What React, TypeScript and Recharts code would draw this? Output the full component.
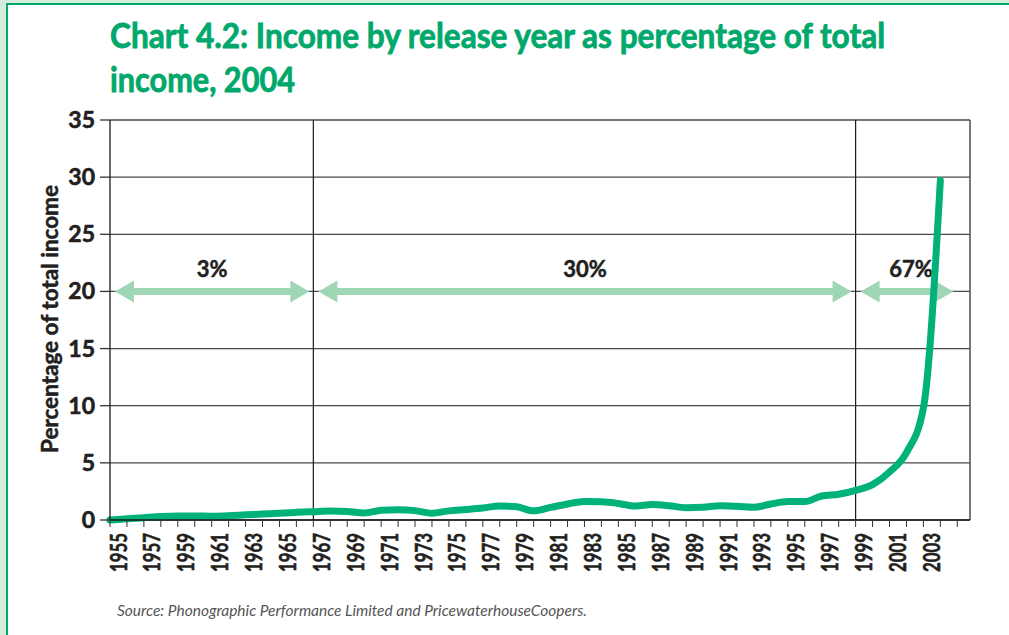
import React from 'react';
import { LineChart, Line, XAxis, YAxis, CartesianGrid, ReferenceLine } from 'recharts';

const years = [
  1955, 1956, 1957, 1958, 1959, 1960, 1961, 1962, 1963, 1964,
  1965, 1966, 1967, 1968, 1969, 1970, 1971, 1972, 1973, 1974,
  1975, 1976, 1977, 1978, 1979, 1980, 1981, 1982, 1983, 1984,
  1985, 1986, 1987, 1988, 1989, 1990, 1991, 1992, 1993, 1994,
  1995, 1996, 1997, 1998, 1999, 2000, 2001, 2002, 2003, 2004,
];

const incomeShare = [
  0.0, 0.1, 0.2, 0.3, 0.35, 0.35, 0.33, 0.37, 0.45, 0.52,
  0.6, 0.67, 0.73, 0.78, 0.75, 0.62, 0.85, 0.9, 0.82, 0.6,
  0.8, 0.92, 1.05, 1.22, 1.15, 0.8, 1.1, 1.4, 1.62, 1.6,
  1.45, 1.22, 1.35, 1.25, 1.08, 1.12, 1.25, 1.2, 1.12, 1.4,
  1.62, 1.62, 2.1, 2.25, 2.6, 3.1, 4.2, 5.9, 9.8, 29.7,
];

const xTickYears = [
  1955, 1956, 1957, 1958, 1959, 1960, 1961, 1962, 1963, 1964,
  1965, 1966, 1967, 1968, 1969, 1970, 1971, 1972, 1973, 1974,
  1975, 1976, 1977, 1978, 1979, 1980, 1981, 1982, 1983, 1984,
  1985, 1986, 1987, 1988, 1989, 1990, 1991, 1992, 1993, 1994,
  1995, 1996, 1997, 1998, 1999, 2000, 2001, 2002, 2003, 2004, 2005,
];

const labelledYears = [
  1955, 1957, 1959, 1961, 1963, 1965, 1967, 1969, 1971, 1973, 1975, 1977, 1979,
  1981, 1983, 1985, 1987, 1989, 1991, 1993, 1995, 1997, 1999, 2001, 2003,
];

const yTicks = [0, 5, 10, 15, 20, 25, 30, 35];

const periodStarts = [1955, 1967, 1999];
const periodEnds = [1967, 1999, 2005];
const periodLabels = ['3%', '30%', '67%'];
const arrowLevel = 20;

const xMin = 1955;
const xMax = 2005.75;

const titleLines = ['Chart 4.2: Income by release year as percentage of total', 'income, 2004'];
const yAxisTitle = 'Percentage of total income';
const sourceText = 'Source: Phonographic Performance Limited and PricewaterhouseCoopers.';

const data = years.map((year, i) => ({ year, value: incomeShare[i] }));

const FONT = 'Lato, "Open Sans", sans-serif';
const DARK = '#231f20';
const TITLE_GREEN = '#00a86b';

const XTick = (props: any) => {
  const { x, y, payload } = props;
  const v = payload.value;
  if (!labelledYears.includes(v)) return <g />;
  const ax = x + 16.5;
  const ay = y + 6;
  return (
    <text
      x={ax}
      y={ay}
      transform={`rotate(-90 ${ax} ${ay})`}
      textAnchor="end"
      fontFamily={FONT}
      fontWeight={700}
      fontSize={23}
      fill={DARK}
      stroke={DARK}
      strokeWidth={0.6}
      textLength={39}
      lengthAdjust="spacingAndGlyphs"
    >
      {String(v)}
    </text>
  );
};

const YTick = (props: any) => {
  const { x, y, payload } = props;
  return (
    <text
      x={x}
      y={y}
      dy={8}
      textAnchor="end"
      fontFamily={FONT}
      fontWeight={700}
      fontSize={23}
      fill={DARK}
      stroke={DARK}
      strokeWidth={0.6}
    >
      {String(payload.value)}
    </text>
  );
};

const makeArrow = (label: string) => (props: any) => {
  const { x1, y1, x2 } = props;
  const a = x1 + 5;
  const b = x2 - 4;
  const y = y1;
  const hl = 19;
  const hh = 11;
  const sh = 3.5;
  const pts = [
    [a, y], [a + hl, y - hh], [a + hl, y - sh], [b - hl, y - sh], [b - hl, y - hh],
    [b, y], [b - hl, y + hh], [b - hl, y + sh], [a + hl, y + sh], [a + hl, y + hh],
  ].map((p) => p.join(',')).join(' ');
  return (
    <g>
      <polygon points={pts} fill="#9fd6b6" />
      <text
        x={(a + b) / 2 + (label === '67%' ? 4 : 0)}
        y={y - 14}
        textAnchor="middle"
        fontFamily={FONT}
        fontWeight={700}
        fontSize={22}
        fill={DARK}
        stroke={DARK}
        strokeWidth={0.5}
      >
        {label}
      </text>
    </g>
  );
};

export default function App() {
  return (
    <div style={{ position: 'absolute', left: 0, top: 0, width: 1009, height: 635, background: '#d3ebdd', overflow: 'hidden' }}>
      <div
        style={{
          position: 'absolute', left: 6, top: 3, right: 0, bottom: 0,
          background: '#ffffff', borderLeft: '2px solid #00a86b', borderTop: '2px solid #00a86b',
        }}
      />
      <div style={{ position: 'absolute', left: 0, top: 0 }}>
        <LineChart width={1009} height={635} data={data} margin={{ top: 120, right: 39, bottom: 0, left: 0 }}>
          <CartesianGrid horizontal vertical={false} stroke="#4a4a4a" strokeWidth={1.3} />
          <XAxis
            dataKey="year"
            type="number"
            domain={[xMin, xMax]}
            ticks={xTickYears}
            interval={0}
            height={115}
            tickSize={7}
            tickMargin={0}
            axisLine={{ stroke: '#1a1a1a', strokeWidth: 1.3 }}
            tickLine={{ stroke: '#333', strokeWidth: 1 }}
            tick={<XTick />}
          />
          <YAxis
            type="number"
            domain={[0, 35]}
            ticks={yTicks}
            width={110}
            tickSize={10}
            tickMargin={5}
            axisLine={{ stroke: '#1a1a1a', strokeWidth: 1.3 }}
            tickLine={{ stroke: '#333', strokeWidth: 1.3 }}
            tick={<YTick />}
          />
          <ReferenceLine x={periodStarts[1]} stroke="#1a1a1a" strokeWidth={1.2} />
          <ReferenceLine x={periodStarts[2]} stroke="#1a1a1a" strokeWidth={1.2} />
          <ReferenceLine x={xMax} stroke="#4a4a4a" strokeWidth={1.5} />
          {periodLabels.map((label, i) => (
            <ReferenceLine
              key={label}
              segment={[{ x: periodStarts[i], y: arrowLevel }, { x: periodEnds[i], y: arrowLevel }]}
              shape={makeArrow(label)}
            />
          ))}
          <Line
            type="monotone"
            dataKey="value"
            stroke="#00b27a"
            strokeWidth={7}
            dot={false}
            activeDot={false}
            strokeLinecap="round"
            strokeLinejoin="round"
            isAnimationActive={false}
          />
        </LineChart>
      </div>
      <svg width={1009} height={635} style={{ position: 'absolute', left: 0, top: 0, pointerEvents: 'none' }}>
        <text x={110} y={48} fontFamily={FONT} fontWeight={700} fontSize={34} fill={TITLE_GREEN} stroke={TITLE_GREEN} strokeWidth={0.8} textLength={775} lengthAdjust="spacingAndGlyphs">
          {titleLines[0]}
        </text>
        <text x={110} y={92} fontFamily={FONT} fontWeight={700} fontSize={34} fill={TITLE_GREEN} stroke={TITLE_GREEN} strokeWidth={0.8} textLength={185} lengthAdjust="spacingAndGlyphs">
          {titleLines[1]}
        </text>
        <text
          x={58}
          y={319}
          transform="rotate(-90 58 319)"
          textAnchor="middle"
          fontFamily={FONT}
          fontWeight={700}
          fontSize={22}
          fill={DARK}
          stroke={DARK}
          strokeWidth={0.5}
          textLength={268}
          lengthAdjust="spacingAndGlyphs"
        >
          {yAxisTitle}
        </text>
        <text x={117} y={616} fontFamily={FONT} fontStyle="italic" fontSize={15} fill="#555" textLength={470} lengthAdjust="spacingAndGlyphs">
          {sourceText}
        </text>
      </svg>
    </div>
  );
}
